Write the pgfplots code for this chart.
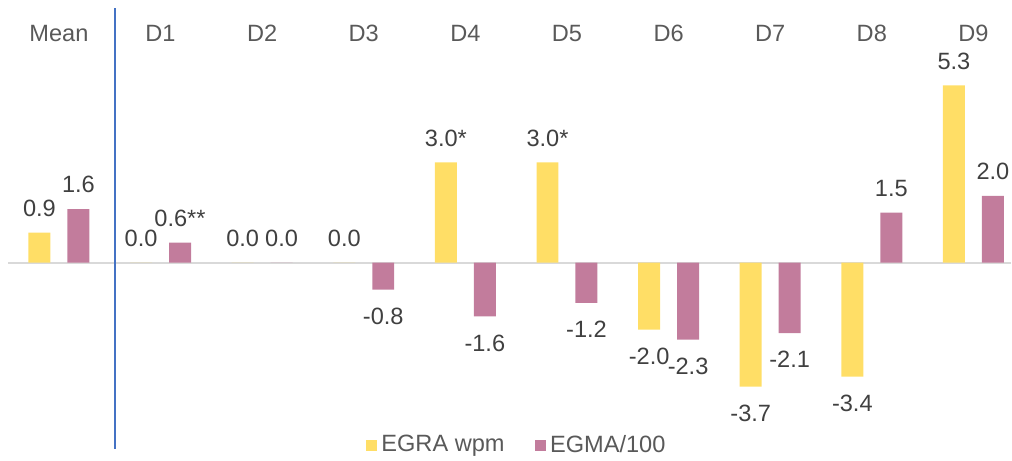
\documentclass[border=0pt]{standalone}
\usepackage{pgfplots}
\usepackage{pgfplotstable}
\pgfplotsset{compat=1.18}
\usepackage{fontspec}
\setmainfont{Liberation Sans}
\definecolor{egra}{HTML}{FFDE66}
\definecolor{egma}{HTML}{C27C9C}
\definecolor{lbl}{HTML}{404040}
\definecolor{cat}{HTML}{595959}
\definecolor{vline}{HTML}{4472C4}
\pgfplotstableread{
x y lab sh
0 0.9 0.9 7.8
1 0.0 0.0 7.8
2 0.0 0.0 7.8
3 0.0 0.0 7.8
4 3.0 3.0* 7.8
5 3.0 3.0* 7.8
6 -2.0 -2.0 -17.7
7 -3.7 -3.7 -17.7
8 -3.4 -3.4 -17.7
9 5.3 5.3 7.8
}\egradata
\pgfplotstableread{
x y lab sh
0 1.6 1.6 7.8
1 0.6 0.6** 7.8
2 0.0 0.0 7.8
3 -0.8 -0.8 -17.7
4 -1.6 -1.6 -17.7
5 -1.2 -1.2 -17.7
6 -2.3 -2.3 -17.7
7 -2.1 -2.1 -17.7
8 1.5 1.5 7.8
9 2.0 2.0 7.8
}\egmadata
\begin{document}
\fontsize{11.8}{13}\selectfont
\begin{tikzpicture}
\begin{axis}[
  scale only axis,
  width=506pt, height=230.5pt,
  xmin=-0.58, xmax=9.37,
  ymin=-5.91, ymax=7.851,
  hide axis,
  clip=false,
  ybar=0pt,
  bar width=11pt,
  nodes near coords,
  point meta=explicit symbolic,
  visualization depends on={\thisrow{sh}\as\sh},
  legend style={draw=none, fill=none, inner sep=0pt, at={(0.512,0.033)}, anchor=center, legend columns=2,
    font=\fontsize{11.8}{13}\selectfont, text=cat,
    /tikz/every even column/.append style={column sep=13pt}},
  legend image code/.code={\fill[#1] (0pt,-2.9pt) rectangle (5.8pt,2.9pt);},
]
\path (rel axis cs:0,0) rectangle (rel axis cs:1,1);
\draw[color=black!15, line width=1pt] (axis cs:-0.5,0) -- (axis cs:9.37,0);
\addplot[fill=egra, draw=none, bar shift=-9.75pt,
  every node near coord/.append style={font=\fontsize{11.8}{13}\selectfont, text=lbl, inner sep=0pt, anchor=south, yshift=\sh pt}]
  table[x=x, y=y, meta=lab] {\egradata};
\addlegendentry{EGRA wpm}
\addplot[fill=egma, draw=none, bar shift=9.75pt,
  every node near coord/.append style={font=\fontsize{11.8}{13}\selectfont, text=lbl, inner sep=0pt, anchor=south, yshift=\sh pt}]
  table[x=x, y=y, meta=lab] {\egmadata};
\addlegendentry{EGMA/100}
\draw[color=vline, line width=1pt] (axis cs:0.55,7.61) -- (axis cs:0.55,-5.58);
\foreach \i/\t in {0/Mean,1/D1,2/D2,3/D3,4/D4,5/D5,6/D6,7/D7,8/D8,9/D9}{
  \edef\tmp{\noexpand\node[anchor=base, text=cat, font=\noexpand\fontsize{11.8}{13}\noexpand\selectfont] at (axis cs:\i,6.6) {\t};}
  \tmp
}
\end{axis}
\end{tikzpicture}
\end{document}
